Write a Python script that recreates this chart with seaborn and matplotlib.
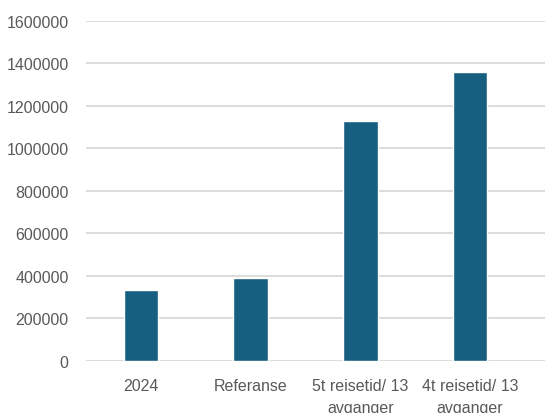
import matplotlib
matplotlib.use("Agg")
import matplotlib.pyplot as plt
import seaborn as sns
import pandas as pd

categories = ["2024", "Referanse", "5t reisetid/ 13\navganger", "4t reisetid/ 13\navganger"]
values = [334000, 388000, 1130000, 1360000]
yticks = [0, 200000, 400000, 600000, 800000, 1000000, 1200000, 1400000, 1600000]

sns.set_theme(style="white")
plt.rcParams['font.family'] = ['Liberation Sans', 'DejaVu Sans']

df = pd.DataFrame({"cat": categories, "val": values})

fig = plt.figure(figsize=(5.45, 4.14), dpi=100)
ax = fig.add_axes([86/545, 52.3/414, 1 - 86/545, (361.7 - 21.7)/414])

sns.barplot(data=df, x="cat", y="val", color="#175f80", width=0.315,
            saturation=1, ax=ax, zorder=3)

ax.set_xlim(-0.5, 3.683)
ax.set_ylim(0, 1600000)
ax.set_yticks(yticks)
ax.set_yticklabels([str(v) for v in yticks])
ax.grid(axis="y", color="#d9d9d9", linewidth=1.3, zorder=0)
ax.set_axisbelow(True)
for s in ax.spines.values():
    s.set_visible(False)
ax.set_xlabel("")
ax.set_ylabel("")
ax.tick_params(axis="y", length=0, pad=12.5, labelsize=11.5, labelcolor="#595959")
ax.tick_params(axis="x", length=0, pad=12.5, labelsize=11.5, labelcolor="#595959")
for lbl in ax.get_xticklabels():
    lbl.set_linespacing(1.6)

fig.savefig("out.png", dpi=100)
